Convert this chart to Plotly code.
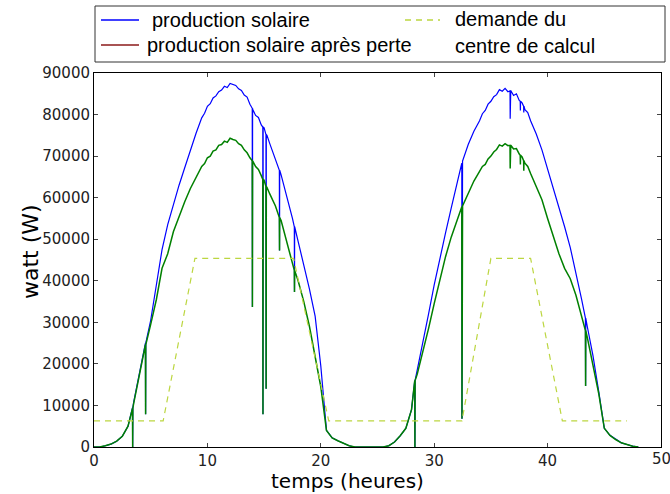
import plotly.graph_objects as go

# ---------------- data ----------------
hours = [0, 0.5, 1, 1.5, 2, 2.5, 3, 3.5, 4, 4.5, 5, 5.5, 6, 6.5, 7, 7.5, 8, 8.5, 9, 9.5,
         9.75, 10, 10.25, 10.5, 10.75, 11, 11.25, 11.5, 11.75, 12, 12.25, 12.5, 12.75, 13,
         13.25, 13.5, 13.75, 14, 14.25, 14.5, 14.75, 15, 15.25, 15.5, 16, 16.5, 17, 17.5,
         18, 18.5, 19, 19.5, 20, 20.5, 21, 21.5, 22, 22.5, 23, 23.5, 24, 24.5, 25, 25.5,
         26, 26.5, 27, 27.5, 28, 28.5, 29, 29.5, 30, 30.5, 31, 31.5, 32, 32.5, 33, 33.5,
         34, 34.25, 34.5, 34.75, 35, 35.25, 35.5, 35.75, 36, 36.25, 36.5, 36.75, 37, 37.25,
         37.5, 37.75, 38, 38.25, 38.5, 39, 39.5, 40, 40.5, 41, 41.5, 42, 42.5, 43, 43.5,
         44, 44.5, 45, 45.5, 46, 46.5, 47, 47.5, 48]

solar = [0, 0, 300, 700, 1400, 2600, 5000, 10800, 17500, 24400, 30500, 39000, 47500, 53500,
         58500, 63000, 67200, 71500, 75500, 79200,
         80300, 82000, 82600, 84000, 84500, 85500, 85900, 86800, 86500, 87500, 87200, 87000,
         86200, 85800, 84700, 84200, 82500, 81200, 79800, 79300, 77500, 76800, 75000, 73000,
         69500, 65500, 60500, 55000,
         49500, 44000, 38000, 31500, 19500, 4000, 2200, 1500, 800, 300, 0, 0, 0, 0, 0, 0,
         300, 1200, 2700, 4500, 9000, 18500, 25000, 32000, 39000, 45500, 51500, 57500, 63500,
         68800, 72800, 76000,
         78500, 80200, 81000, 82500, 83200, 84300, 84800, 86000, 85600, 86300, 85500, 85800,
         84600, 85000,
         83400, 82800, 81200, 80500, 78500, 75300, 71500, 67000, 62500, 57800, 53000, 48000,
         42000, 35500, 29000,
         22000, 13500, 4500, 2800, 1800, 1000, 600, 200, 0]

solar_after_loss = [0, 0, 300, 700, 1400, 2600, 5000, 10500, 17000, 24000, 29500, 35500, 43000,
                    46500, 51800, 55500, 59000, 62200, 65000, 67500,
                    68200, 69600, 70000, 71200, 71500, 72600, 72800, 73600, 73300, 74300, 74000,
                    73800, 73000, 72600, 71500, 70800, 69600, 68800, 67500, 66800, 65300, 64200,
                    62500, 60900, 58000, 54500, 49500, 44000,
                    40000, 35000, 29000, 22000, 14500, 4000, 2200, 1500, 800, 300, 0, 0, 0, 0,
                    0, 0,
                    300, 1200, 2700, 4500, 9000, 17500, 22800, 28500, 34500, 40000, 45800, 50500,
                    54500, 58000, 61000, 64000,
                    66300, 67500, 68000, 69300, 70000, 71000, 71600, 72700, 72400, 73000, 72500,
                    72600, 71700, 71800,
                    70500, 69800, 68300, 67500, 65800, 62800, 59500, 55000, 50500, 46500, 43000,
                    40500, 36500, 31000, 26400,
                    20000, 13000, 4500, 2800, 1800, 1000, 600, 200, 0]

# short drops (passing clouds / outages)
dip_hours = [3.41, 4.55, 13.97, 14.9, 15.18, 16.36, 17.68, 28.3, 32.45, 36.7, 37.6, 37.9, 43.35]
dip_solar_top = [9500, 25000, 81500, 77000, 75200, 66600, 53000, 16000, 68300, 85700, 83200,
                 82000, 31000]
dip_solar_bottom = [0, 7900, 33700, 7900, 14000, 47300, 37300, 0, 6800, 79000, 81000, 80500,
                    14700]
dip_loss_top = [9300, 24600, 68900, 64400, 62700, 55200, 42500, 16000, 57800, 72600, 70200,
                68900, 28000]
dip_loss_bottom = [0, 7900, 33700, 7900, 14000, 47300, 37300, 0, 6800, 67000, 68000, 66500,
                   14700]

demand_hours = [0, 6.1, 8.9, 17.6, 20.7, 32.45, 35.0, 38.5, 41.3, 47]
demand = [6300, 6300, 45400, 45400, 6300, 6300, 45400, 45400, 6300, 6300]

x_ticks = [0, 10, 20, 30, 40, 50]
x_tick_labels = ["0", "10", "20", "30", "40", "50"]
y_ticks = [0, 10000, 20000, 30000, 40000, 50000, 60000, 70000, 80000, 90000]


def with_dips(base_t, base_v, tops, bottoms):
    pts = list(zip(base_t, base_v))
    for t, top, bot in zip(dip_hours, tops, bottoms):
        pts += [(t - 0.015, top), (t, bot), (t + 0.015, top)]
    pts.sort()
    return [p[0] for p in pts], [p[1] for p in pts]


t_solar, v_solar = with_dips(hours, solar, dip_solar_top, dip_solar_bottom)
t_loss, v_loss = with_dips(hours, solar_after_loss, dip_loss_top, dip_loss_bottom)

# ---------------- figure ----------------
W, H = 670, 494
ML, MR, MT, MB = 94, 9, 73, 47
PW, PH = W - ML - MR, H - MT - MB


def px(x):
    return (x - ML) / PW


def py(y):
    return (H - MB - y) / PH


fig = go.Figure()
fig.add_trace(go.Scatter(x=t_solar, y=v_solar, mode="lines",
                         line=dict(color="#0000ff", width=1.2), showlegend=False))
fig.add_trace(go.Scatter(x=t_loss, y=v_loss, mode="lines",
                         line=dict(color="#008000", width=1.5), showlegend=False))
fig.add_trace(go.Scatter(x=demand_hours, y=demand, mode="lines",
                         line=dict(color="#bcd640", width=1.2, dash="6px,5px"),
                         showlegend=False))

tickfont = dict(family="DejaVu Sans", size=15, color="#222222")
# last x label ("50") sits on the right edge; it is drawn as an annotation below
fig.update_xaxes(range=[0, 50], tickvals=x_ticks, ticktext=x_tick_labels[:-1] + [""],
                 ticks="inside", ticklen=4,
                 showline=True, linecolor="black", linewidth=1, mirror="ticks",
                 showgrid=False, zeroline=False, tickfont=tickfont)
fig.update_yaxes(range=[0, 90000], tickvals=y_ticks, tickformat="d", ticks="inside",
                 ticklen=4, showline=True, linecolor="black", linewidth=1, mirror="ticks",
                 showgrid=False, zeroline=False, tickfont=tickfont,
                 ticklabeloverflow="allow")

shapes = [
    dict(type="rect", xref="paper", yref="paper", x0=px(95), x1=px(665), y0=py(62), y1=py(6),
         line=dict(color="#333333", width=1), fillcolor="white", layer="above"),
    dict(type="line", xref="paper", yref="paper", x0=px(101), x1=px(139), y0=py(20), y1=py(20),
         line=dict(color="#0000ff", width=1.3)),
    dict(type="line", xref="paper", yref="paper", x0=px(101), x1=px(139), y0=py(45), y1=py(45),
         line=dict(color="#8b1a1a", width=1.3)),
    dict(type="line", xref="paper", yref="paper", x0=px(405), x1=px(440), y0=py(20), y1=py(20),
         line=dict(color="#bcd640", width=1.3, dash="6px,5px")),
]

legfont = dict(family="Liberation Sans, Arial", size=20, color="black")
annotations = [
    dict(text="production solaire", x=px(150), y=py(20), xref="paper", yref="paper",
         xanchor="left", yanchor="middle", showarrow=False, font=legfont),
    dict(text="production solaire après perte", x=px(145), y=py(45), xref="paper", yref="paper",
         xanchor="left", yanchor="middle", showarrow=False, font=legfont),
    dict(text="demande du", x=px(453), y=py(19), xref="paper", yref="paper",
         xanchor="left", yanchor="middle", showarrow=False, font=legfont),
    dict(text="centre de calcul", x=px(453), y=py(46), xref="paper", yref="paper",
         xanchor="left", yanchor="middle", showarrow=False, font=legfont),
    dict(text="temps (heures)", x=px(347), y=py(481), xref="paper", yref="paper",
         xanchor="center", yanchor="middle", showarrow=False,
         font=dict(family="DejaVu Sans", size=20, color="black")),
    dict(text="watt (W)", x=px(30), y=py(252), xref="paper", yref="paper", textangle=-90,
         xanchor="center", yanchor="middle", showarrow=False,
         font=dict(family="DejaVu Sans", size=22, color="black")),
    dict(text=x_tick_labels[-1], x=x_ticks[-1], y=py(459), xref="x", yref="paper",
         xanchor="center", yanchor="middle", showarrow=False, font=tickfont),
]

fig.update_layout(width=W, height=H, margin=dict(l=ML, r=MR, t=MT, b=MB),
                  paper_bgcolor="white", plot_bgcolor="white",
                  shapes=shapes, annotations=annotations, showlegend=False)

fig.write_html("out.html", config={"displayModeBar": False},
               post_script="document.body.style.margin='0';document.body.style.padding='0';")
